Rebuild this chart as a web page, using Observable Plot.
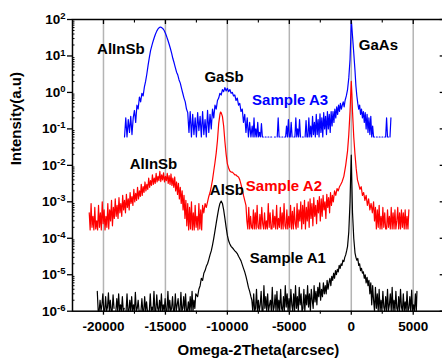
<!DOCTYPE html>
<html>
<head>
<meta charset="utf-8">
<script src="https://cdn.jsdelivr.net/npm/d3@7"></script>
<script src="https://cdn.jsdelivr.net/npm/@observablehq/plot@0.6"></script>
<style>
  html, body { margin: 0; padding: 0; background: white; overflow: hidden; }
  #chart { width: 442px; height: 358px; }
</style>
</head>
<body>
<div id="chart"></div>
<script>
// ---- Sample A3 (blue): [Omega-2Theta (arcsec), intensity] ----
const sampleA3 = [
[-18300,0.06],[-18200,0.2],[-18100,0.06],[-18000,0.18],[-17900,0.08],[-17800,0.22],[-17700,0.07],[-17600,0.2],[-17500,0.32],[-17400,0.15],
[-17300,0.45],[-17200,0.35],[-17100,0.75],[-17000,0.55],[-16900,0.95],[-16800,0.8],[-16700,1.4],[-16600,2.0],[-16500,3.2],[-16400,5.5],
[-16300,9],[-16200,14],[-16100,19],[-16000,25],[-15900,32],[-15800,40],[-15700,48],[-15600,55],[-15500,60],[-15400,62],
[-15300,60],[-15200,56],[-15100,50],[-15000,42],[-14900,34],[-14800,27],[-14700,21],[-14600,16],[-14500,12],[-14400,8.5],
[-14300,6.5],[-14200,4.8],[-14100,3.6],[-14000,3.0],[-13900,2.2],[-13800,1.8],[-13700,1.3],[-13600,0.95],[-13500,0.7],[-13400,0.55],
[-13300,0.35],[-13200,0.28],
[-13100,0.08],[-13000,0.3],[-12900,0.06],[-12800,0.25],[-12700,0.07],[-12600,0.2],[-12500,0.06],[-12400,0.28],[-12300,0.09],[-12200,0.22],
[-12100,0.06],[-12000,0.3],[-11900,0.07],[-11800,0.18],[-11700,0.06],[-11600,0.32],[-11500,0.08],[-11400,0.25],[-11300,0.1],[-11200,0.35],
[-11100,0.2],[-11000,0.45],[-10900,0.35],[-10800,0.6],[-10700,0.7],[-10600,0.95],[-10500,0.85],[-10400,1.2],[-10300,1.05],[-10200,1.35],
[-10100,1.1],[-10000,1.3],[-9900,1.05],[-9800,1.2],[-9700,0.95],[-9600,1.0],[-9500,0.8],[-9400,0.85],[-9300,0.6],[-9200,0.7],
[-9100,0.45],[-9000,0.5],[-8900,0.3],[-8800,0.35],[-8700,0.15],[-8600,0.25],[-8500,0.08],[-8400,0.2],[-8300,0.06],[-8200,0.15],
[-8100,0.06],
[-8000,0.12],[-7925,0.06],[-7850,0.2],[-7775,0.06],[-7700,0.1],[-7625,0.06],[-7550,0.15],[-7475,0.06],[-7400,0.08],[-7325,0.06],
[-7250,0.14],[-7175,0.06],[-7100,0.06],[-7025,null],[-6950,0.06],[-6875,0.06],[-6800,null],[-6725,0.06],[-6650,0.06],[-6575,null],
[-6500,0.06],[-6425,0.06],[-6350,null],[-6275,null],[-6200,0.06],[-6125,0.06],[-6050,null],[-5975,0.06],[-5900,0.2],[-5825,0.06],
[-5750,0.06],[-5675,null],[-5600,0.06],[-5525,0.06],[-5450,null],[-5375,0.06],[-5300,0.06],[-5225,0.12],[-5150,0.06],[-5075,0.18],
[-5000,0.06],[-4925,0.06],[-4850,0.15],[-4775,0.06],[-4700,null],[-4625,0.06],[-4550,0.06],[-4475,0.2],[-4400,0.06],[-4325,0.1],
[-4250,0.06],[-4175,0.18],[-4100,0.06],[-4025,null],[-3950,0.06],[-3875,0.06],[-3800,null],[-3725,0.06],[-3650,0.17],[-3575,0.06],
[-3500,0.06],[-3425,0.2],[-3350,0.06],[-3275,0.12],[-3200,0.06],[-3125,0.22],[-3050,0.07],[-2975,0.15],[-2900,0.06],[-2825,0.25],
[-2750,0.07],[-2675,0.18],[-2600,0.06],[-2525,0.26],[-2450,0.08],[-2375,0.2],[-2300,0.06],[-2225,0.28],[-2150,0.1],[-2075,0.22],
[-2000,0.07],[-1925,0.3],[-1850,0.1],[-1775,0.25],[-1700,0.08],[-1625,0.3],[-1550,0.12],
[-1475,0.3],[-1400,0.15],[-1325,0.35],[-1250,0.2],[-1175,0.4],[-1100,0.25],[-1025,0.45],[-950,0.3],[-875,0.5],[-800,0.35],
[-725,0.45],[-650,0.55],[-575,0.4],[-500,0.6],[-400,0.8],[-300,1.2],[-200,2.5],[-100,8],[-50,25],[0,100],
[50,60],[100,35],[200,12],[300,4],[375,1.5],[450,0.8],[525,0.5],[600,0.35],[675,0.45],[750,0.25],
[825,0.35],[900,0.2],[975,0.3],[1050,0.15],[1125,0.28],[1200,0.1],[1275,0.25],[1350,0.08],[1425,0.2],[1500,0.07],
[1575,0.22],[1650,0.06],[1725,0.12],
[1800,0.06],[1875,0.06],[1950,null],[2025,0.06],[2100,0.06],[2175,null],[2250,0.06],[2325,0.06],[2400,null],[2475,0.06],
[2550,0.06],[2625,null],[2700,0.06],[2775,0.06],[2850,0.2],[2925,0.06],[3000,0.06],[3075,null],[3125,0.06],[3200,0.2]
];

// ---- Sample A2 (red) ----
const sampleA2 = [
[-21150,5e-4],[-21075,1.7e-4],[-21000,9e-4],[-20925,2e-4],[-20850,4e-4],[-20775,1.7e-4],[-20700,7e-4],[-20625,1.8e-4],[-20550,3e-4],[-20475,1.7e-4],
[-20400,8e-4],[-20325,2e-4],[-20250,5e-4],[-20175,1.7e-4],[-20100,1e-3],[-20025,2.5e-4],[-19950,6e-4],[-19875,1.7e-4],[-19800,4e-4],[-19725,2e-4],
[-19650,9e-4],[-19575,1.8e-4],[-19500,6e-4],[-19425,3e-4],[-19350,1.1e-3],[-19275,2.2e-4],[-19200,7e-4],[-19125,3.5e-4],[-19050,1.2e-3],[-18975,4e-4],
[-18900,8e-4],[-18825,3.5e-4],[-18750,1.3e-3],[-18675,5e-4],[-18600,9e-4],[-18525,4e-4],[-18450,1.5e-3],[-18375,6e-4],[-18300,1.1e-3],[-18225,5e-4],
[-18150,1.6e-3],[-18075,7e-4],[-18000,1.2e-3],[-17925,6e-4],[-17850,1.8e-3],[-17775,9e-4],[-17700,1.4e-3],[-17625,8e-4],[-17550,2.2e-3],[-17475,1e-3],
[-17400,1.7e-3],[-17325,1.1e-3],[-17250,2.5e-3],[-17175,1.2e-3],[-17100,2e-3],[-17025,1.4e-3],[-16950,3e-3],[-16875,1.5e-3],[-16800,2.6e-3],[-16725,1.8e-3],
[-16650,3.5e-3],[-16575,2e-3],[-16500,3e-3],[-16425,2.2e-3],[-16350,4.5e-3],[-16275,2.5e-3],[-16200,3.8e-3],[-16125,2.8e-3],[-16050,5.5e-3],[-15975,3e-3],
[-15900,4.5e-3],[-15825,3.2e-3],[-15750,6e-3],[-15675,3.5e-3],[-15600,5e-3],[-15525,3.8e-3],[-15450,6.8e-3],[-15375,3.6e-3],[-15300,5.5e-3],[-15225,4e-3],
[-15150,6.2e-3],[-15075,3.5e-3],[-15000,5e-3],[-14925,3.8e-3],[-14850,6e-3],[-14775,3.2e-3],[-14700,5.2e-3],[-14625,3e-3],[-14550,5.8e-3],[-14475,2.8e-3],
[-14400,4.5e-3],[-14325,2.5e-3],[-14250,4.8e-3],[-14175,2e-3],[-14100,3.5e-3],[-14025,1.6e-3],[-13950,3.2e-3],[-13875,1.2e-3],[-13800,2.5e-3],[-13725,9e-4],
[-13650,2e-3],[-13575,6e-4],[-13500,1.5e-3],[-13425,3.5e-4],[-13350,1.1e-3],[-13275,2.2e-4],[-13200,9e-4],[-13125,1.7e-4],[-13050,7e-4],[-12975,1.8e-4],
[-12900,1e-3],[-12825,1.7e-4],[-12750,5e-4],[-12675,1.7e-4],[-12600,8e-4],[-12525,2e-4],[-12450,4e-4],[-12375,1.7e-4],[-12300,9e-4],[-12225,1.8e-4],
[-12150,6e-4],[-12075,1.7e-4],[-12000,8e-4],
[-11900,5e-4],[-11800,9e-4],[-11700,7e-4],[-11600,1e-3],[-11500,1.4e-3],[-11400,1.8e-3],[-11300,2.6e-3],[-11200,4e-3],[-11100,7e-3],[-11000,0.012],
[-10900,0.022],[-10800,0.048],[-10700,0.14],[-10600,0.25],[-10550,0.29],[-10500,0.28],[-10400,0.22],[-10300,0.12],[-10200,0.045],[-10100,0.02],
[-10000,0.011],[-9900,8.5e-3],[-9800,7e-3],[-9700,6.5e-3],[-9600,6.5e-3],[-9500,6e-3],[-9400,5.5e-3],[-9300,5.5e-3],[-9200,5e-3],[-9100,4.8e-3],
[-9000,4e-3],[-8900,3e-3],[-8800,2.2e-3],[-8700,1.5e-3],[-8600,1.1e-3],[-8500,8e-4],
[-8425,3e-4],[-8350,1.8e-4],[-8275,7e-4],[-8200,1.8e-4],[-8125,4e-4],[-8050,2e-4],[-7975,1.8e-4],[-7900,6e-4],[-7825,1.8e-4],[-7750,5e-4],
[-7675,1.8e-4],[-7600,8e-4],[-7525,2e-4],[-7450,1.8e-4],[-7375,4.5e-4],[-7300,1.8e-4],[-7225,7e-4],[-7150,2.5e-4],[-7075,1.8e-4],[-7000,5e-4],
[-6925,1.8e-4],[-6850,3e-4],[-6775,1.8e-4],[-6700,9e-4],[-6625,2e-4],[-6550,5e-4],[-6475,1.8e-4],[-6400,1.8e-4],[-6325,6e-4],[-6250,2e-4],
[-6175,4e-4],[-6100,1.8e-4],[-6025,8e-4],[-5950,1.8e-4],[-5875,3.5e-4],[-5800,2e-4],[-5725,7e-4],[-5650,1.8e-4],[-5575,5e-4],[-5500,1.8e-4],
[-5425,9e-4],[-5350,2.2e-4],[-5275,1.8e-4],[-5200,6e-4],[-5125,1.8e-4],[-5050,4e-4],[-4975,2e-4],[-4900,8e-4],[-4825,1.8e-4],[-4750,5.5e-4],
[-4675,1.8e-4],[-4600,7e-4],[-4525,2.5e-4],[-4450,1.8e-4],[-4375,9e-4],[-4300,2e-4],[-4225,6e-4],[-4150,3e-4],[-4075,1e-3],[-4000,1.8e-4],
[-3925,8e-4],[-3850,2.5e-4],[-3775,1.1e-3],[-3700,1.8e-4],[-3625,7e-4],[-3550,3e-4],[-3475,1e-3],[-3400,2e-4],[-3325,1.2e-3],[-3250,3.5e-4],
[-3175,9e-4],[-3100,2.2e-4],[-3025,1.3e-3],[-2950,4e-4],[-2875,8e-4],[-2800,2.5e-4],[-2725,1.1e-3],[-2650,5e-4],[-2575,1.4e-3],[-2500,3e-4],
[-2425,1.2e-3],[-2350,4e-4],[-2275,1.5e-3],[-2200,6e-4],[-2125,1e-3],[-2050,3.5e-4],[-1975,1.6e-3],[-1900,7e-4],[-1825,1.3e-3],[-1750,5e-4],
[-1675,1.8e-3],[-1600,8e-4],[-1525,1.5e-3],[-1450,1e-3],
[-1350,2e-3],[-1250,1.5e-3],[-1150,2.3e-3],[-1050,2e-3],[-950,2.6e-3],[-850,3e-3],[-750,3.5e-3],[-600,5e-3],[-450,0.01],[-300,0.025],
[-200,0.07],[-100,0.3],[-50,0.8],[0,2.0],[50,0.9],[100,0.3],[200,0.06],[300,0.02],[400,8e-3],[500,4e-3],
[600,3e-3],[700,2.2e-3],[800,2.6e-3],[900,1.5e-3],[1000,1.8e-3],[1100,1.1e-3],[1200,1.5e-3],[1300,8e-4],[1400,1.2e-3],[1500,6e-4],
[1600,9e-4],[1700,5e-4],[1800,1e-3],[1875,3e-4],
[1950,7e-4],[2025,1.8e-4],[2100,6e-4],[2175,2e-4],[2250,8e-4],[2325,1.8e-4],[2400,4e-4],[2475,1.8e-4],[2550,7e-4],[2625,2e-4],
[2700,5e-4],[2775,1.8e-4],[2850,1.8e-4],[2925,6e-4],[3000,2e-4],[3075,4e-4],[3150,1.8e-4],[3225,7e-4],[3300,1.8e-4],[3375,5e-4],
[3450,1.8e-4],[3525,6e-4],[3600,1.8e-4],[3675,3e-4],[3750,7e-4],[3825,1.8e-4],[3900,5e-4],[3975,1.8e-4],[4050,6e-4],[4125,2e-4],
[4200,5e-4],[4275,1.8e-4],[4350,6e-4],[4425,1.8e-4],[4500,4e-4],[4575,1.8e-4],[4650,6e-4]
];

// ---- Sample A1 (black) ----
const sampleA1 = [
[-20500,3.5e-6],[-20425,1e-6],[-20350,1e-6],[-20275,2e-6],[-20200,1e-6],[-20125,1.5e-6],[-20050,3e-6],[-19975,1e-6],[-19900,1e-6],[-19825,2.5e-6],
[-19750,1e-6],[-19675,1.3e-6],[-19600,3.2e-6],[-19525,1e-6],[-19450,2e-6],[-19375,1e-6],[-19300,1e-6],[-19225,2.8e-6],[-19150,1.2e-6],[-19075,null],
[-19000,1e-6],[-18925,2.2e-6],[-18850,1e-6],[-18775,3e-6],[-18700,1e-6],[-18625,1.5e-6],[-18550,1e-6],[-18475,2.5e-6],[-18400,1e-6],[-18325,1.2e-6],
[-18250,null],[-18175,1e-6],[-18100,3e-6],[-18025,1e-6],[-17950,1e-6],[-17875,2e-6],[-17800,1e-6],[-17725,2.5e-6],[-17650,1e-6],[-17575,1.5e-6],
[-17500,1e-6],[-17425,3.3e-6],[-17350,1e-6],[-17275,1.2e-6],[-17200,2e-6],[-17125,1e-6],[-17050,null],[-16975,1e-6],[-16900,2.2e-6],[-16825,1e-6],
[-16750,1e-6],[-16675,2.5e-6],[-16600,1e-6],[-16525,1.8e-6],[-16450,1e-6],[-16375,null],[-16300,1e-6],[-16225,3e-6],[-16150,1e-6],[-16075,1.3e-6],
[-16000,1e-6],[-15925,3.5e-6],[-15850,1e-6],[-15775,1e-6],[-15700,2.8e-6],[-15625,1.2e-6],[-15550,1e-6],[-15475,2e-6],[-15400,1e-6],[-15325,3e-6],
[-15250,1e-6],[-15175,1.5e-6],[-15100,1e-6],[-15025,2.2e-6],[-14950,1e-6],[-14875,1e-6],[-14800,3.5e-6],[-14725,1e-6],[-14650,2e-6],[-14575,1e-6],
[-14500,1.2e-6],[-14425,2.5e-6],[-14350,1e-6],[-14275,1e-6],[-14200,3e-6],[-14125,1e-6],[-14050,1.5e-6],[-13975,2.2e-6],[-13900,1e-6],[-13825,1e-6],
[-13750,3.3e-6],[-13675,1e-6],[-13600,1.2e-6],[-13525,2.5e-6],[-13450,1e-6],[-13375,3e-6],[-13300,1e-6],[-13225,1e-6],[-13150,1.8e-6],[-13075,1e-6],
[-13000,2.5e-6],[-12925,1e-6],[-12850,3.5e-6],[-12775,1e-6],[-12700,2e-6],[-12625,1.2e-6],[-12550,3e-6],
[-12400,2.5e-6],[-12300,4e-6],[-12200,5e-6],[-12100,8e-6],[-12000,7e-6],[-11900,1.1e-5],[-11800,1.3e-5],[-11700,1.7e-5],[-11600,2e-5],[-11500,2.6e-5],
[-11400,3.5e-5],[-11300,4.5e-5],[-11200,6.5e-5],[-11100,1e-4],[-11000,1.6e-4],[-10900,2.6e-4],[-10800,4.2e-4],[-10700,6.5e-4],[-10600,9e-4],[-10500,1.05e-3],
[-10400,9e-4],[-10300,6e-4],[-10200,3.5e-4],[-10100,2e-4],[-10000,1.2e-4],[-9900,8.5e-5],[-9800,7e-5],[-9700,6e-5],[-9600,5.5e-5],[-9500,5e-5],
[-9400,4.5e-5],[-9300,4.2e-5],[-9200,3.8e-5],[-9100,3.2e-5],[-9000,2.8e-5],[-8900,2.4e-5],[-8800,1.9e-5],[-8700,1.5e-5],[-8600,1.2e-5],[-8500,9e-6],
[-8400,6.5e-6],[-8300,4.5e-6],[-8200,3.5e-6],[-8100,2.5e-6],
[-8025,2e-6],[-7950,1e-6],[-7875,3e-6],[-7800,1e-6],[-7725,1.2e-6],[-7650,4e-6],[-7575,1e-6],[-7500,2e-6],[-7425,1e-6],[-7350,1.5e-6],
[-7275,3.5e-6],[-7200,1e-6],[-7125,1e-6],[-7050,5e-6],[-6975,1.2e-6],[-6900,2.5e-6],[-6825,1e-6],[-6750,3e-6],[-6675,1e-6],[-6600,1.5e-6],
[-6525,2e-6],[-6450,1e-6],[-6375,4.5e-6],[-6300,1e-6],[-6225,1.3e-6],[-6150,2.8e-6],[-6075,1e-6],[-6000,3.5e-6],[-5925,1e-6],[-5850,2e-6],
[-5775,1e-6],[-5700,4e-6],[-5625,1.2e-6],[-5550,1e-6],[-5475,2.5e-6],[-5400,1e-6],[-5325,5e-6],[-5250,1.3e-6],[-5175,3e-6],[-5100,1e-6],
[-5025,2.2e-6],[-4950,1e-6],[-4875,4e-6],[-4800,1.5e-6],[-4725,1e-6],[-4650,3e-6],[-4575,1e-6],[-4500,5e-6],[-4425,1.2e-6],[-4350,2.5e-6],
[-4275,1e-6],[-4200,4.5e-6],[-4125,1.5e-6],[-4050,3e-6],[-3975,1e-6],[-3900,1.2e-6],[-3825,4e-6],[-3750,1e-6],[-3675,2.8e-6],[-3600,1.5e-6],
[-3525,5e-6],[-3450,1.3e-6],[-3375,3e-6],[-3300,1e-6],[-3225,4e-6],[-3150,2e-6],[-3075,1.2e-6],[-3000,5e-6],[-2925,1.8e-6],[-2850,3.5e-6],
[-2775,1.5e-6],[-2700,4.5e-6],[-2625,2.5e-6],[-2550,6e-6],[-2475,2e-6],[-2400,4e-6],[-2325,2.5e-6],[-2250,6e-6],[-2175,3e-6],[-2100,5e-6],
[-2025,3e-6],[-1950,7e-6],[-1875,4e-6],[-1800,6e-6],[-1725,8e-6],
[-1650,5e-6],[-1575,9e-6],[-1500,7e-6],[-1425,1.1e-5],[-1350,8e-6],[-1275,1.3e-5],[-1200,1e-5],[-1125,1.4e-5],[-1050,1.2e-5],[-975,1.8e-5],
[-900,1.5e-5],[-825,2e-5],[-750,1.8e-5],[-675,2.5e-5],[-600,2.3e-5],[-525,3e-5],[-450,3.5e-5],[-375,4.5e-5],[-300,6e-5],[-200,1.5e-4],
[-100,1e-3],[-50,5e-3],[0,0.019],[50,3e-3],[100,5e-4],[200,1e-4],[300,4e-5],[375,3e-5],[450,2.5e-5],[525,2.8e-5],
[600,1.8e-5],[675,2e-5],[750,1.3e-5],[825,1.5e-5],[900,1.1e-5],[975,1.2e-5],[1050,8e-6],[1125,1e-5],[1200,6e-6],[1275,8.5e-6],
[1350,5e-6],[1425,7e-6],
[1500,3e-6],[1575,6e-6],[1650,1.5e-6],[1725,5e-6],[1800,2e-6],[1875,1e-6],[1950,4.5e-6],[2025,1.2e-6],[2100,3e-6],[2175,1e-6],
[2250,4e-6],[2325,1e-6],[2400,2e-6],[2475,1e-6],[2550,3.5e-6],[2625,1.3e-6],[2700,1e-6],[2775,2.5e-6],[2850,1e-6],[2925,4e-6],
[3000,1e-6],[3075,1.5e-6],[3150,3e-6],[3225,1e-6],[3300,4.5e-6],[3375,1e-6],[3450,2e-6],[3525,1e-6],[3600,3.5e-6],[3675,1.2e-6],
[3750,1e-6],[3825,2.5e-6],[3900,1e-6],[3975,4e-6],[4050,1.3e-6],[4125,1e-6],[4200,3e-6],[4275,1e-6],[4350,1.8e-6],[4425,1e-6],
[4500,3.5e-6],[4575,1e-6],[4650,1.2e-6],[4725,2.5e-6],[4800,1e-6],[4875,3.8e-6],[4950,1e-6],[5025,1.5e-6],[5100,1e-6],[5175,3e-6],
[5250,1e-6],[5300,3.5e-6]
];

// ---- Axis ticks ----
const xMajorTicks = [-20000, -15000, -10000, -5000, 0, 5000];
const xMinorTicks = [-17500, -12500, -7500, -2500, 2500];
const yMajorTicks = [1e-6, 1e-5, 1e-4, 1e-3, 1e-2, 1e-1, 1e0, 1e1, 1e2];

// ---- Annotations ----
const labelText = ["AlInSb", "GaSb", "GaAs", "Sample A3", "AlInSb", "AlSb", "Sample A2", "Sample A1"];
const labelX = [-18600, -10270, 2190, -4935, -15960, -10040, -5435, -5120];
const labelY = [15.7, 2.6, 20.3, 0.6, 0.0106, 2.07e-3, 2.66e-3, 2.88e-5];

const toRows = a => a.map(([x, y]) => ({x, y}));
const a1 = toRows(sampleA1), a2 = toRows(sampleA2), a3 = toRows(sampleA3);
const labels = labelText.map((t, i) => ({t, x: labelX[i], y: labelY[i]}));
const yMinorTicks = yMajorTicks.slice(0, -1).flatMap(d => [2,3,4,5,6,7,8,9].map(k => k * d));

const BLUE = "#0000ff", RED = "#ff0000", BLACK = "#000000";
const labelColor = t => t === "Sample A3" ? BLUE : t === "Sample A2" ? RED : BLACK;

const chart = Plot.plot({
  width: 442,
  height: 358,
  marginLeft: 72,
  marginRight: -1.7,
  marginTop: 19,
  marginBottom: 47.3,
  style: {fontFamily: "'Liberation Sans', Arial, sans-serif", fontWeight: "bold", fontSize: "13.5px", background: "white", color: "black", overflow: "visible"},
  x: {type: "linear", domain: [-22500, 7500], axis: null},
  y: {type: "log", domain: [1e-6, 1e2], axis: null},
  marks: [
    Plot.gridX(xMajorTicks, {stroke: "#b4b4b4", strokeOpacity: 1, strokeWidth: 1.5}),
    Plot.line(a3, {x: "x", y: "y", stroke: BLUE, strokeWidth: 1.2}),
    Plot.line(a2, {x: "x", y: "y", stroke: RED, strokeWidth: 1.2}),
    Plot.line(a1, {x: "x", y: "y", stroke: BLACK, strokeWidth: 1.2}),
    Plot.frame({stroke: BLACK, strokeWidth: 1.5}),
    // bottom axis
    Plot.axisX(xMajorTicks, {anchor: "bottom", tickSize: 4, tickPadding: 6, strokeWidth: 1.3, tickFormat: d => String(d), label: null}),
    Plot.axisX(xMinorTicks, {anchor: "bottom", tickSize: 3, strokeWidth: 1.1, tickFormat: () => "", label: null}),
    // top axis (inward ticks)
    Plot.axisX(xMajorTicks, {anchor: "top", tickSize: 4, dy: 4, strokeWidth: 1.3, tickFormat: () => "", label: null}),
    Plot.axisX(xMinorTicks, {anchor: "top", tickSize: 2.5, dy: 2.5, strokeWidth: 1.1, tickFormat: () => "", label: null}),
    // left axis
    Plot.axisY(yMajorTicks, {anchor: "left", tickSize: 5, tickPadding: 2, strokeWidth: 1.3, tickFormat: d => "10^" + Math.round(Math.log10(d)), label: null}),
    Plot.axisY(yMinorTicks, {anchor: "left", tickSize: 2.5, dx: 2.5, strokeWidth: 1, tickFormat: () => "", label: null}),
    // right axis (inward ticks)
    Plot.axisY(yMajorTicks, {anchor: "right", tickSize: 5, dx: -5, strokeWidth: 1.3, tickFormat: () => "", label: null}),
    Plot.axisY(yMinorTicks, {anchor: "right", tickSize: 2.5, dx: -2.5, strokeWidth: 1, tickFormat: () => "", label: null}),
    // annotations
    Plot.text(labels, {x: "x", y: "y", text: "t", fill: d => labelColor(d.t), fontSize: 15, fontWeight: "bold", textAnchor: "middle", lineAnchor: "middle"}),
    // axis titles
    Plot.text(["Omega-2Theta(arcsec)"], {text: d => d, frameAnchor: "bottom", dy: 39, fontSize: 15, fontWeight: "bold", lineAnchor: "middle"}),
    Plot.text(["Intensity(a.u)"], {text: d => d, frameAnchor: "left", dx: -56, rotate: -90, fontSize: 15, fontWeight: "bold", lineAnchor: "middle"})
  ]
});

// superscript exponents on log tick labels
chart.querySelectorAll('g[aria-label="y-axis tick label"] text').forEach(t => {
  const s = t.textContent;
  if (!s.startsWith("10^")) return;
  const exp = s.slice(3);
  t.textContent = "10";
  const ts = document.createElementNS("http://www.w3.org/2000/svg", "tspan");
  ts.setAttribute("dy", "-0.5em");
  ts.setAttribute("font-size", "9.5px");
  ts.textContent = exp;
  t.appendChild(ts);
});

document.getElementById("chart").appendChild(chart);
</script>
</body>
</html>
